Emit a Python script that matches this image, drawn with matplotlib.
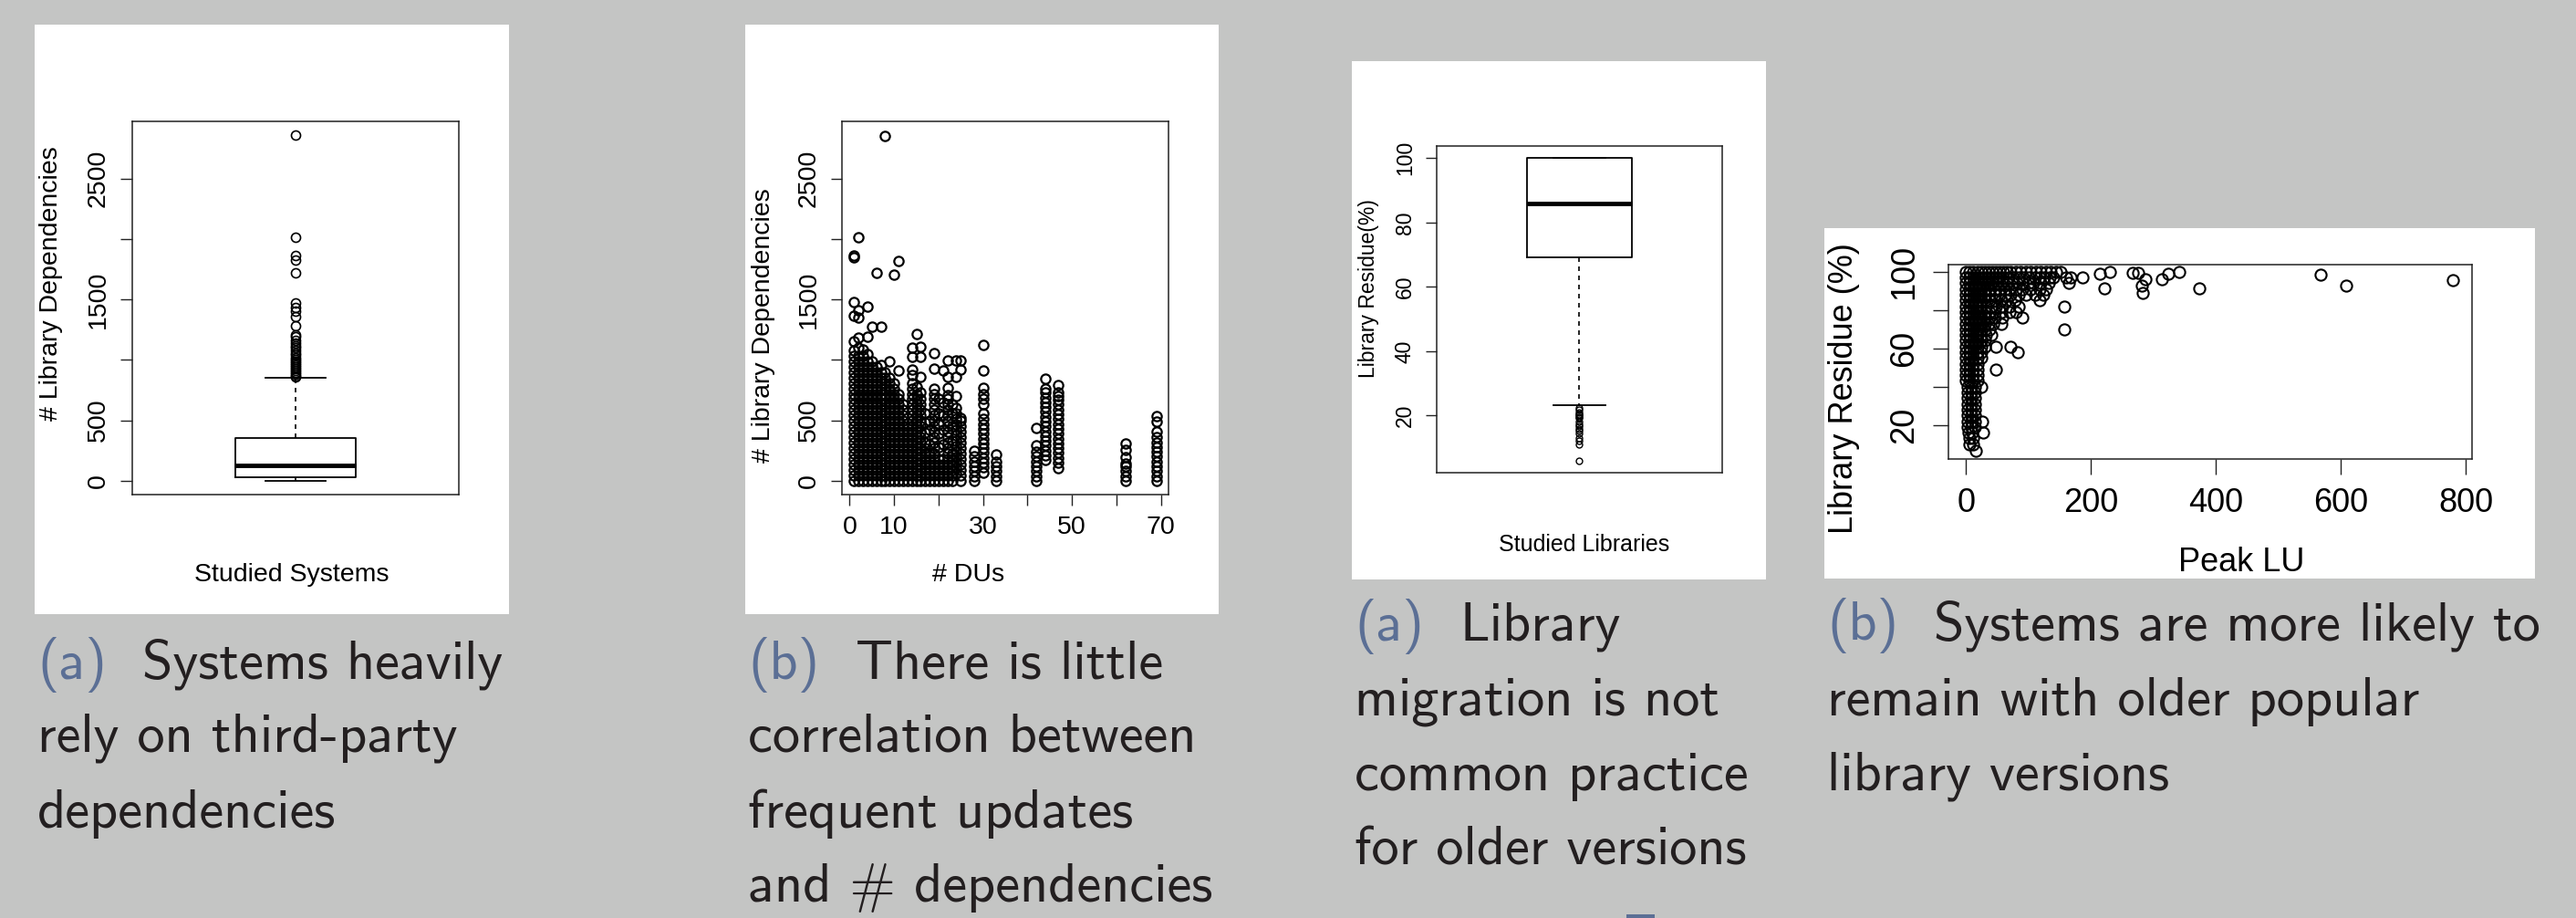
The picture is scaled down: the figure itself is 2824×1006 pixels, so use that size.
import matplotlib
matplotlib.use("Agg")
import matplotlib.pyplot as plt
from matplotlib.patches import Rectangle

W, H = 2824, 1006
BG = "#c4c5c4"
INK = "#231f20"
CAP_BLUE = "#5b6f95"
RFONT = "Liberation Sans"
CAPFONT = "cmss10"

# ---- panel (a) left: library dependencies per studied system ----
sys_box = dict(q1=28, med=128, q3=355, whislo=0, whishi=854)
sys_outliers = [859, 870, 885, 900, 915, 930, 945, 960, 975, 990, 1005, 1020, 1040,
                1060, 1080, 1100, 1120, 1140, 1165, 1190, 1211, 1286, 1362, 1400,
                1437, 1475, 1720, 1828, 1866, 2016, 2860]
dep_ticks = [0, 500, 1000, 1500, 2000, 2500]
dep_ticklabels = ["0", "500", "", "1500", "", "2500"]

# ---- panel (b) left: # DUs vs # library dependencies ----
du_columns = {
    1: [0, 45, 90, 135, 180, 225, 270, 315, 360, 405, 450, 495, 540, 585, 630, 675, 720, 765,
        810, 855, 900, 945, 990, 1035, 1080, 1157, 1363, 1476, 1850, 1862],
    2: [0, 45, 90, 135, 180, 225, 270, 315, 360, 405, 450, 495, 540, 585, 630, 675, 720, 765,
        810, 855, 900, 945, 990, 1035, 1100, 1182, 1350, 1413, 2015],
    3: [0, 45, 90, 135, 180, 225, 270, 315, 360, 405, 450, 495, 540, 585, 630, 675, 720, 765,
        810, 855, 900, 945, 990, 1035, 1090],
    4: [0, 45, 90, 135, 180, 225, 270, 315, 360, 405, 450, 495, 540, 585, 630, 675, 720, 765,
        810, 855, 900, 945, 990, 1050, 1192, 1443],
    5: [0, 45, 90, 135, 180, 225, 270, 315, 360, 405, 450, 495, 540, 585, 630, 675, 720, 765,
        810, 855, 900, 945, 990, 1275],
    6: [0, 45, 90, 135, 180, 225, 270, 315, 360, 405, 450, 495, 540, 585, 630, 675, 720, 765,
        810, 855, 900, 945, 1719],
    7: [0, 45, 90, 135, 180, 225, 270, 315, 360, 405, 450, 495, 540, 585, 630, 675, 720, 765,
        810, 855, 900, 960, 1275],
    8: [0, 45, 90, 135, 180, 225, 270, 315, 360, 405, 450, 495, 540, 585, 630, 675, 720, 765,
        810, 855, 900, 2856],
    9: [0, 45, 90, 135, 180, 225, 270, 315, 360, 405, 450, 495, 540, 585, 630, 675, 720, 765,
        810, 855, 986],
    10: [0, 45, 90, 135, 180, 225, 270, 315, 360, 405, 450, 495, 540, 585, 630, 675, 720, 765,
         810, 1702],
    11: [0, 45, 90, 135, 180, 225, 270, 315, 360, 405, 450, 495, 540, 585, 630, 675, 720, 911, 1820],
    12: [0, 45, 90, 135, 180, 225, 270, 315, 360, 405, 450, 495, 540, 585, 630],
    13: [0, 45, 90, 135, 180, 225, 270, 315, 360, 405, 450, 520],
    14: [0, 45, 90, 135, 180, 225, 270, 315, 360, 405, 450, 495, 540, 585, 630, 675, 720, 765,
         810, 873, 924, 1024, 1100],
    15: [0, 45, 90, 135, 180, 225, 270, 315, 360, 405, 450, 495, 540, 585, 630, 675, 720, 780, 1218],
    16: [0, 45, 90, 135, 180, 225, 270, 315, 360, 405, 450, 495, 540, 585, 630, 675, 735, 861,
         1024, 1107],
    17: [0, 45, 90, 135, 180, 225, 270, 320, 400, 480, 560],
    18: [0, 45, 90, 135, 180, 225, 300, 420, 500],
    19: [0, 45, 90, 135, 180, 225, 270, 315, 360, 405, 450, 495, 540, 585, 630, 675, 720, 765,
         931, 1057],
    20: [0, 45, 90, 135, 180, 280, 390, 470, 560, 680],
    21: [0, 45, 90, 135, 180, 300, 420, 540, 650, 916],
    22: [0, 45, 90, 135, 180, 225, 270, 315, 360, 405, 450, 495, 540, 585, 630, 675, 710, 773,
         861, 994],
    23: [0, 45, 90, 135, 180, 225, 330, 450, 560, 635],
    24: [60, 105, 150, 195, 240, 285, 330, 375, 420, 465, 510, 555, 600, 703, 861, 994],
    25: [0, 45, 90, 135, 180, 225, 270, 315, 360, 405, 450, 495, 522, 924, 994],
    28: [0, 40, 80, 120, 160, 200, 246],
    30: [70, 110, 150, 190, 230, 270, 310, 350, 390, 430, 470, 510, 560, 635, 680, 720, 773,
         911, 1124],
    33: [0, 40, 80, 120, 160, 221],
    42: [0, 40, 80, 120, 160, 200, 240, 296, 439],
    44: [170, 210, 250, 290, 330, 370, 410, 450, 490, 530, 570, 610, 650, 690, 730, 760, 848],
    47: [108, 150, 190, 230, 270, 310, 350, 390, 430, 470, 510, 550, 590, 630, 670, 700, 735, 791],
    62: [0, 40, 80, 120, 146, 196, 259, 309],
    69: [0, 40, 80, 120, 160, 200, 240, 280, 320, 359, 409, 492, 535],
}
du_ticks = [0, 10, 20, 30, 40, 50, 60, 70]
du_ticklabels = ["0", "10", "", "30", "", "50", "", "70"]

# ---- panel (a) right: library residue of studied libraries ----
lib_box = dict(q1=69.3, med=85.9, q3=100, whislo=23.3, whishi=100)
lib_outliers = [22.5, 21.8, 21.0, 20.5, 20.1, 19.6, 19.2, 18.2, 17.4, 16.8, 15.9, 15.2,
                14.4, 13.0, 12.2, 11.0, 6.0]
res_ticks = [20, 40, 60, 80, 100]

# ---- panel (b) right: peak LU vs library residue ----
residue_rows = {
    100: [0, 6, 12, 18, 24, 30, 36, 42, 48, 54, 60, 66, 72, 80, 88, 96, 104, 112, 120, 128, 136, 145, 152],
    97: [0, 6, 12, 18, 24, 30, 36, 42, 48, 54, 60, 68, 76, 84, 92, 100, 110, 118, 126, 134, 140, 160, 168],
    94: [0, 6, 12, 18, 24, 30, 36, 42, 50, 58, 66, 74, 82, 90, 100, 108, 120, 132, 164],
    91: [0, 6, 12, 18, 24, 30, 38, 46, 54, 62, 70, 80, 90, 104, 118, 128],
    88: [0, 6, 12, 18, 24, 30, 38, 46, 54, 62, 72, 84, 96, 110, 124],
    85: [0, 6, 12, 18, 24, 30, 38, 46, 56, 66, 78, 118],
    82: [0, 6, 12, 18, 24, 32, 40, 48, 58, 70, 84, 158],
    79: [0, 6, 12, 18, 24, 30, 38, 46, 56, 70, 80],
    76: [0, 6, 12, 18, 24, 30, 38, 46, 58, 90],
    73: [0, 6, 12, 18, 24, 30, 36, 44, 56],
    70: [0, 6, 12, 18, 24, 30, 38, 157],
    67: [0, 6, 12, 18, 24, 32, 40],
    64: [0, 6, 12, 18, 24, 30],
    61: [0, 6, 12, 18, 24, 30, 48, 71],
    58: [0, 6, 12, 18, 24, 83],
    55: [0, 6, 12, 18, 24],
    52: [0, 6, 12, 18],
    49: [0, 6, 12, 18, 48],
    46: [0, 6, 12, 18],
    43: [0, 6, 12, 18],
    40: [2, 8, 14, 24],
    37: [2, 8, 14],
    34: [2, 8, 14],
    31: [3, 9, 15],
    28: [3, 9, 15],
    25: [3, 9, 15],
    22: [3, 9, 15, 26],
    19: [3, 9, 15],
    16: [4, 10, 27],
    13: [5, 11],
    10: [6, 12],
}
lu_sparse = [16, 186, 215, 231, 222, 267, 276, 288, 281, 283, 314, 324, 342, 373, 568, 608, 780]
res_sparse = [6.5, 97.3, 98.9, 100, 91.6, 99.5, 99.5, 96, 92.9, 88.9, 96, 98.9, 100, 91.3, 98.3, 92.9, 95.6]
lu_ticks = [0, 200, 400, 600, 800]
res_ticks_b = [20, 40, 60, 80, 100]
res_ticklabels_b = ["20", "", "60", "", "100"]

captions = [
    (41, [744, 824, 907], "(a)", 156, ["Systems heavily", "rely on third-party", "dependencies"]),
    (820, [744, 824, 907, 988], "(b)", 938, ["There is little", "correlation between",
                                             "frequent updates", "and # dependencies"]),
    (1485, [702, 784, 866, 948], "(a)", 1601, ["Library", "migration is not",
                                               "common practice", "for older versions"]),
    (2003, [701, 784, 866], "(b)", 2120, ["Systems are more likely to", "remain with older popular",
                                          "library versions"]),
]

fig = plt.figure(figsize=(W / 100, H / 100), dpi=100, facecolor=BG)


def fx(x):
    return x / W


def fy(y):
    return 1 - y / H


def white_box(x0, y0, x1, y1):
    fig.add_artist(Rectangle((fx(x0), fy(y1)), (x1 - x0) / W, (y1 - y0) / H,
                             transform=fig.transFigure, facecolor="white",
                             edgecolor="none", zorder=-1))


def panel_axes(x0, y0, x1, y1, tick_px, fsize, pad):
    ax = fig.add_axes([fx(x0), fy(y1), (x1 - x0) / W, (y1 - y0) / H])
    ax.set_facecolor("white")
    for s in ax.spines.values():
        s.set_linewidth(1.1)
        s.set_color("#222222")
    ax.tick_params(direction="out", length=tick_px * 0.72, width=1.0, color="#222222",
                   labelsize=fsize, pad=pad)
    ax.tick_params(axis="y", labelrotation=90)
    return ax


def rtext(x, y, s, size, rot=0):
    fig.text(fx(x), fy(y), s, fontsize=size, family=RFONT, rotation=rot,
             ha="center", va="center", color="black")


def box_panel(ax, stats, outliers, ms, mew):
    st = dict(stats, fliers=outliers)
    ax.bxp([st], positions=[1], widths=0.4, showfliers=True,
           boxprops=dict(color="black", linewidth=1.3),
           medianprops=dict(color="black", linewidth=3.5, solid_capstyle="butt"),
           whiskerprops=dict(color="black", linewidth=1.2, linestyle=(0, (3, 3))),
           capprops=dict(color="black", linewidth=1.3),
           flierprops=dict(marker="o", markerfacecolor="none", markeredgecolor="black",
                           markersize=ms, markeredgewidth=mew, linestyle="none"))
    ax.set_xlim(0.46, 1.54)
    ax.set_xticks([])


# panel boxes
white_box(38, 27, 558, 673)
white_box(817, 27, 1336, 673)
white_box(1482, 67, 1936, 635)
white_box(2000, 250, 2779, 634)

# (a) left
ax1 = panel_axes(145, 133, 503, 542, 13, 20.5, 8)
box_panel(ax1, sys_box, sys_outliers, 7.2, 1.2)
ax1.set_ylim(-114, 2974)
ax1.set_yticks(dep_ticks)
ax1.set_yticklabels(dep_ticklabels, family=RFONT, va="center")
rtext(56, 311, "# Library Dependencies", 20.5, 90)
rtext(320, 630, "Studied Systems", 20.5)

# (b) left
ax2 = panel_axes(923, 133, 1281, 542, 12, 20.5, 8)
du_x = [du for du, deps in du_columns.items() for _ in deps]
du_y = [d for deps in du_columns.values() for d in deps]
ax2.plot(du_x, du_y, "o", mfc="none", mec="black", ms=7.4, mew=1.6)
ax2.set_xlim(-1.72, 71.72)
ax2.set_ylim(-114, 2974)
ax2.set_yticks(dep_ticks)
ax2.set_yticklabels(dep_ticklabels, family=RFONT, va="center")
ax2.set_xticks(du_ticks)
ax2.set_xticklabels(du_ticklabels, family=RFONT)
rtext(837, 357, "# Library Dependencies", 20.5, 90)
rtext(1062, 630, "# DUs", 20.5)

# (a) right
ax3 = panel_axes(1575, 160, 1888, 518, 12, 16.5, 8)
box_panel(ax3, lib_box, lib_outliers, 5.0, 1.0)
ax3.set_ylim(2.24, 103.76)
ax3.set_yticks(res_ticks)
ax3.set_yticklabels([str(t) for t in res_ticks], family=RFONT, va="center")
rtext(1501, 316, "Library Residue(%)", 16.5, 90)
rtext(1737, 597, "Studied Libraries", 18)

# (b) right
ax4 = panel_axes(2136, 290, 2710, 503, 17, 26, 10)
lu_x = [lu for res, lus in residue_rows.items() for lu in lus] + lu_sparse
lu_y = [res for res, lus in residue_rows.items() for _ in lus] + res_sparse
ax4.plot(lu_x, lu_y, "o", mfc="none", mec="black", ms=8.8, mew=1.5)
ax4.set_xlim(-28, 810)
ax4.set_ylim(2.24, 103.76)
ax4.set_xticks(lu_ticks)
ax4.set_xticklabels([str(t) for t in lu_ticks], family=RFONT)
ax4.set_yticks(res_ticks_b)
ax4.set_yticklabels(res_ticklabels_b, family=RFONT, va="center")
rtext(2022, 426, "Library Residue (%)", 26, 90)
rtext(2457, 617, "Peak LU", 26)

# captions
for x0, baselines, tag, x_text, lines in captions:
    fig.text(fx(x0), fy(baselines[0]), tag, fontsize=43.5, family=CAPFONT,
             color=CAP_BLUE, va="baseline")
    for i, (yb, line) in enumerate(zip(baselines, lines)):
        fig.text(fx(x_text if i == 0 else x0), fy(yb), line, fontsize=43.5,
                 family=CAPFONT, color=INK, va="baseline")

# cut-off bullet of the next slide line
fig.add_artist(Rectangle((fx(1783), fy(1010)), 31 / W, 8 / H, transform=fig.transFigure,
                         facecolor=CAP_BLUE, edgecolor="none"))

fig.savefig("out.png", dpi=100, facecolor=BG)
